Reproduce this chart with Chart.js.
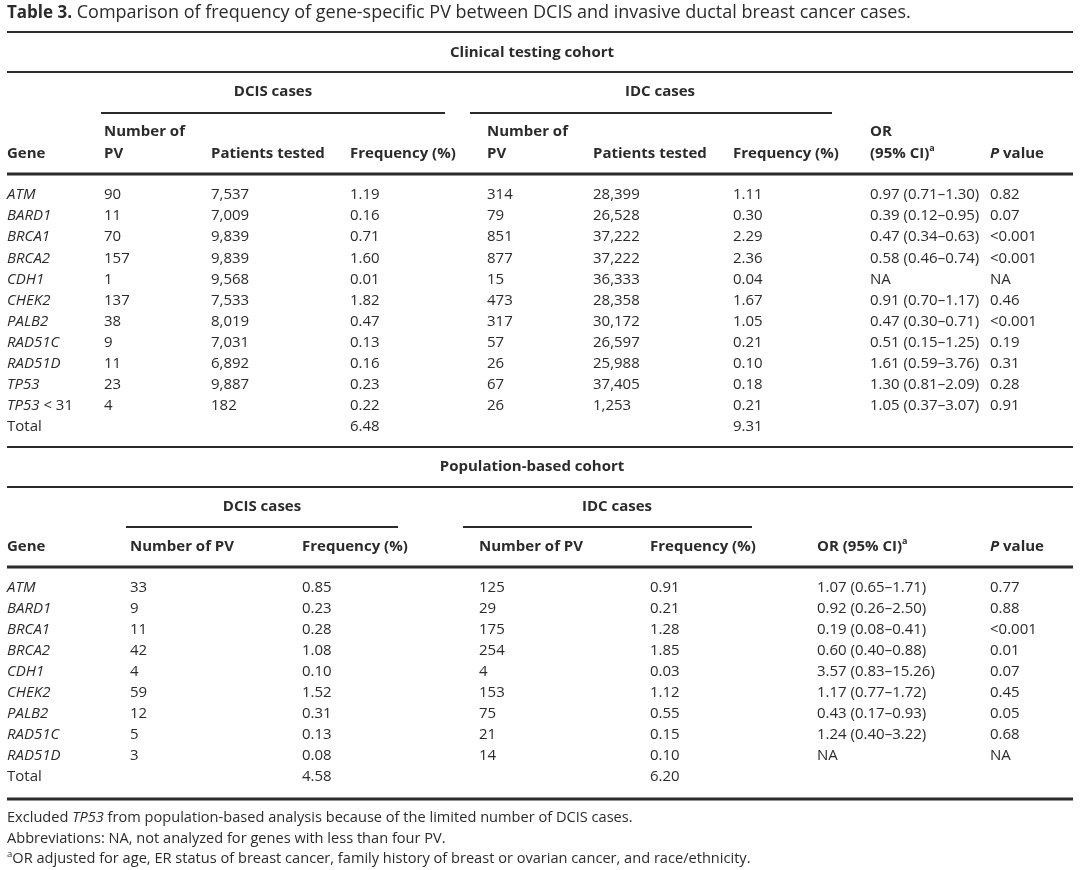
<!DOCTYPE html>
<html>
<head>
<meta charset="utf-8">
<script src="https://cdn.jsdelivr.net/npm/chart.js@4"></script>
<style>
  html, body { margin: 0; padding: 0; background: #fff; }
  #wrap { position: relative; width: 1080px; height: 870px; }
</style>
</head>
<body>
<div id="wrap"><canvas id="tbl"></canvas></div>
<script>
// ---- data: clinical testing cohort ----
const genes1      = ['ATM', 'BARD1', 'BRCA1', 'BRCA2', 'CDH1', 'CHEK2', 'PALB2', 'RAD51C', 'RAD51D', 'TP53', 'TP53 < 31', 'Total'];
const dcisPV1     = ['90', '11', '70', '157', '1', '137', '38', '9', '11', '23', '4', ''];
const dcisTested1 = ['7,537', '7,009', '9,839', '9,839', '9,568', '7,533', '8,019', '7,031', '6,892', '9,887', '182', ''];
const dcisFreq1   = ['1.19', '0.16', '0.71', '1.60', '0.01', '1.82', '0.47', '0.13', '0.16', '0.23', '0.22', '6.48'];
const idcPV1      = ['314', '79', '851', '877', '15', '473', '317', '57', '26', '67', '26', ''];
const idcTested1  = ['28,399', '26,528', '37,222', '37,222', '36,333', '28,358', '30,172', '26,597', '25,988', '37,405', '1,253', ''];
const idcFreq1    = ['1.11', '0.30', '2.29', '2.36', '0.04', '1.67', '1.05', '0.21', '0.10', '0.18', '0.21', '9.31'];
const or1         = ['0.97 (0.71–1.30)', '0.39 (0.12–0.95)', '0.47 (0.34–0.63)', '0.58 (0.46–0.74)', 'NA', '0.91 (0.70–1.17)',
                     '0.47 (0.30–0.71)', '0.51 (0.15–1.25)', '1.61 (0.59–3.76)', '1.30 (0.81–2.09)', '1.05 (0.37–3.07)', ''];
const pval1       = ['0.82', '0.07', '<0.001', '<0.001', 'NA', '0.46', '<0.001', '0.19', '0.31', '0.28', '0.91', ''];

// ---- data: population-based cohort ----
const genes2    = ['ATM', 'BARD1', 'BRCA1', 'BRCA2', 'CDH1', 'CHEK2', 'PALB2', 'RAD51C', 'RAD51D', 'Total'];
const dcisPV2   = ['33', '9', '11', '42', '4', '59', '12', '5', '3', ''];
const dcisFreq2 = ['0.85', '0.23', '0.28', '1.08', '0.10', '1.52', '0.31', '0.13', '0.08', '4.58'];
const idcPV2    = ['125', '29', '175', '254', '4', '153', '75', '21', '14', ''];
const idcFreq2  = ['0.91', '0.21', '1.28', '1.85', '0.03', '1.12', '0.55', '0.15', '0.10', '6.20'];
const or2       = ['1.07 (0.65–1.71)', '0.92 (0.26–2.50)', '0.19 (0.08–0.41)', '0.60 (0.40–0.88)', '3.57 (0.83–15.26)',
                   '1.17 (0.77–1.72)', '0.43 (0.17–0.93)', '1.24 (0.40–3.22)', 'NA', ''];
const pval2     = ['0.77', '0.88', '<0.001', '0.01', '0.07', '0.45', '0.05', '0.68', 'NA', ''];

// ---- text ----
const titleLabel = 'Table 3.';
const titleText  = ' Comparison of frequency of gene-specific PV between DCIS and invasive ductal breast cancer cases.';
const cohort1 = 'Clinical testing cohort';
const cohort2 = 'Population-based cohort';

// layout (px in the 1080x870 scale space)
const FONT = '"Open Sans", "DejaVu Sans", sans-serif';
const INK = '#2b2b2b';
const LEFT = 7, RIGHT = 1073;
const block1 = { top: 195, step: 21.1, cols: [7, 104, 211, 350, 487, 593, 733, 870, 990] };
const block2 = { top: 588, step: 21.0, cols: [7, 130, 302, 479, 650, 817, 990] };

const tablePlugin = {
  id: 'tablePlugin',
  afterDraw(chart) {
    const { ctx, scales: { x, y } } = chart;
    const X = v => x.getPixelForValue(v);
    const Y = v => y.getPixelForValue(v);

    ctx.save();
    ctx.fillStyle = INK;
    ctx.strokeStyle = INK;
    ctx.textBaseline = 'middle';

    // mixed-style text runs
    const runs = (x0, y0, parts, align) => {
      let w = 0;
      parts.forEach(p => { ctx.font = p.f; w += ctx.measureText(p.t).width; });
      let cx = align === 'center' ? x0 - w / 2 : x0;
      parts.forEach(p => {
        ctx.font = p.f;
        ctx.textAlign = 'left';
        ctx.fillText(p.t, cx, y0 + (p.dy || 0));
        cx += ctx.measureText(p.t).width;
      });
    };
    const txt = (s, xv, yv, f, align) => runs(X(xv), Y(yv), [{ t: s, f }], align);
    const hline = (x0, x1, yv, w) => {
      ctx.lineWidth = w;
      ctx.beginPath();
      ctx.moveTo(X(x0), Y(yv));
      ctx.lineTo(X(x1), Y(yv));
      ctx.stroke();
    };

    const reg = '15px ' + FONT;
    const ita = 'italic 15px ' + FONT;
    const bold = 'bold 15px ' + FONT;
    const boldIta = 'italic bold 15px ' + FONT;
    const sup = 'bold 9px ' + FONT;

    // title
    runs(X(LEFT), Y(13), [{ t: titleLabel, f: 'bold 17px ' + FONT }, { t: titleText, f: '18px ' + FONT }]);

    const geneCell = (g, xv, yv) => {
      if (g === 'Total') return txt(g, xv, yv, reg);
      const parts = g.split(' ');
      runs(X(xv), Y(yv), [{ t: parts[0], f: ita }, { t: parts.length > 1 ? ' ' + parts.slice(1).join(' ') : '', f: reg }]);
    };
    const pHead = (xv, yv) => runs(X(xv), Y(yv), [{ t: 'P', f: boldIta }, { t: ' value', f: bold }]);

    // ---- block 1 ----
    hline(LEFT, RIGHT, 32, 2);
    txt(cohort1, 532, 53, bold, 'center');
    hline(LEFT, RIGHT, 72, 2);
    txt('DCIS cases', 273, 92, bold, 'center');
    txt('IDC cases', 660, 92, bold, 'center');
    hline(101, 445, 113, 2);
    hline(470, 832, 113, 2);
    const c1 = block1.cols;
    txt('Gene', c1[0], 154, bold);
    txt('Number of', c1[1], 132, bold);
    txt('PV', c1[1], 154, bold);
    txt('Patients tested', c1[2], 154, bold);
    txt('Frequency (%)', c1[3], 154, bold);
    txt('Number of', c1[4], 132, bold);
    txt('PV', c1[4], 154, bold);
    txt('Patients tested', c1[5], 154, bold);
    txt('Frequency (%)', c1[6], 154, bold);
    txt('OR', c1[7], 132, bold);
    runs(X(c1[7]), Y(154), [{ t: '(95% CI)', f: bold }, { t: 'a', f: sup, dy: -6 }]);
    pHead(c1[8], 154);
    hline(LEFT, RIGHT, 174, 3);

    const cols1 = [dcisPV1, dcisTested1, dcisFreq1, idcPV1, idcTested1, idcFreq1, or1, pval1];
    genes1.forEach((g, i) => {
      const yv = block1.top + i * block1.step;
      geneCell(g, c1[0], yv);
      cols1.forEach((arr, j) => txt(arr[i], c1[j + 1], yv, reg));
    });
    hline(LEFT, RIGHT, 447, 2);

    // ---- block 2 ----
    txt(cohort2, 532, 467, bold, 'center');
    hline(LEFT, RIGHT, 487, 2);
    txt('DCIS cases', 262, 507, bold, 'center');
    txt('IDC cases', 617, 507, bold, 'center');
    hline(126, 398, 527, 2);
    hline(463, 752, 527, 2);
    const c2 = block2.cols;
    txt('Gene', c2[0], 547, bold);
    txt('Number of PV', c2[1], 547, bold);
    txt('Frequency (%)', c2[2], 547, bold);
    txt('Number of PV', c2[3], 547, bold);
    txt('Frequency (%)', c2[4], 547, bold);
    runs(X(c2[5]), Y(547), [{ t: 'OR (95% CI)', f: bold }, { t: 'a', f: sup, dy: -6 }]);
    pHead(c2[6], 547);
    hline(LEFT, RIGHT, 567, 3);

    const cols2 = [dcisPV2, dcisFreq2, idcPV2, idcFreq2, or2, pval2];
    genes2.forEach((g, i) => {
      const yv = block2.top + i * block2.step;
      geneCell(g, c2[0], yv);
      cols2.forEach((arr, j) => txt(arr[i], c2[j + 1], yv, reg));
    });
    hline(LEFT, RIGHT, 799, 3);

    // ---- footnotes ----
    const fn = '14.6px ' + FONT;
    const fnI = 'italic 14.6px ' + FONT;
    runs(X(LEFT), Y(818), [{ t: 'Excluded ', f: fn }, { t: 'TP53', f: fnI }, { t: ' from population-based analysis because of the limited number of DCIS cases.', f: fn }]);
    txt('Abbreviations: NA, not analyzed for genes with less than four PV.', LEFT, 839, fn);
    runs(X(LEFT), Y(859), [{ t: 'a', f: '9.5px ' + FONT, dy: -5 }, { t: 'OR adjusted for age, ER status of breast cancer, family history of breast or ovarian cancer, and race/ethnicity.', f: fn }]);

    ctx.restore();
  }
};

new Chart(document.getElementById('tbl'), {
  type: 'scatter',
  data: { datasets: [] },
  options: {
    responsive: true,
    maintainAspectRatio: false,
    animation: false,
    layout: { padding: 0 },
    plugins: { legend: { display: false }, tooltip: { enabled: false } },
    scales: {
      x: { type: 'linear', min: 0, max: 1080, display: false },
      y: { type: 'linear', min: 0, max: 870, reverse: true, display: false }
    }
  },
  plugins: [tablePlugin]
});
</script>
</body>
</html>
